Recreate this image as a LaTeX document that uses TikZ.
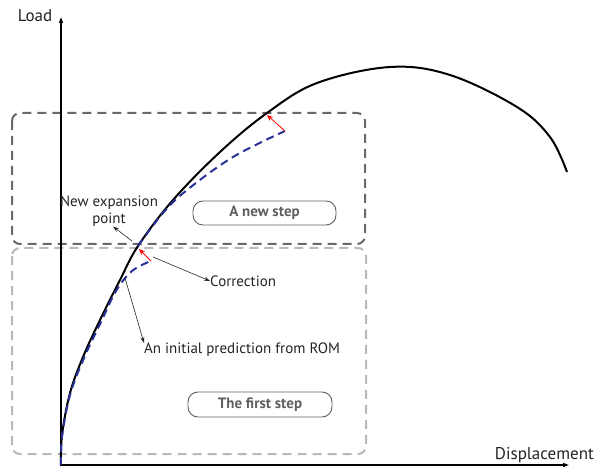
\documentclass[tikz,border=0pt]{standalone}
\usepackage{fontspec}
\setmainfont{PT Sans}
\usetikzlibrary{arrows.meta}
\definecolor{dkgray}{RGB}{105,105,105}
\definecolor{ltgray}{RGB}{185,185,185}
\definecolor{predblue}{RGB}{40,50,150}
\definecolor{txt}{RGB}{35,35,35}
\definecolor{boxtxt}{RGB}{95,95,95}
\tikzset{
 stepframe/.style={line width=2pt, dash pattern=on 9pt off 6pt, rounded corners=8pt},
 axisline/.style={line width=1.4pt, -{Triangle[length=6pt,width=4pt]}},
 loadcurve/.style={line width=2pt, black},
 predcurve/.style={line width=2pt, predblue, dash pattern=on 8pt off 5pt},
 corr/.style={red, line width=0.8pt, -{Stealth[length=6pt,width=5pt]}},
 callout/.style={txt, line width=0.6pt, -{Stealth[length=6pt,width=4pt]}},
 lbl/.style={text=txt, font=\fontsize{15}{17}\selectfont, inner sep=0pt},
 axlbl/.style={text=txt, font=\fontsize{17}{19}\selectfont, inner sep=0pt},
 stepbox/.style={draw=boxtxt, line width=0.9pt, rounded corners=10pt, minimum width=143pt, minimum height=24pt, text=boxtxt, font=\fontsize{15}{17}\selectfont\bfseries},
}
\begin{document}
\begin{tikzpicture}[x=1pt,y=-1pt]
\path[use as bounding box] (0,0) rectangle (595,468);
% frames
\draw[stepframe, ltgray] (12,248) rectangle (366,454);
\draw[stepframe, dkgray] (12,113) rectangle (365,244);
% axes
\coordinate (O) at (61,466);
\coordinate (Ytop) at (61,17);
\coordinate (Xend) at (569,465);
\draw[axisline] (O) -- (Ytop);
\draw[axisline] (61,465) -- (Xend);
% load curve
\draw[loadcurve] plot[smooth, tension=0.6] coordinates {(61,465) (62,435) (70,393) (83,357) (100,320) (120,280) (138,246) (173,200) (220,152) (267,113) (317,83) (390,67) (450,75) (517,107) (550,137) (567,172)};
% predictions
\draw[predcurve] plot[smooth, tension=0.6] coordinates {(61,465) (62,437) (70,395) (84,358) (101,322) (116,291) (132,271) (151,261)};
\draw[predcurve] plot[smooth, tension=0.6] coordinates {(138,246) (163,213) (187,190) (233,157) (285,131)};
% corrections
\coordinate (c1s) at (151,261);
\coordinate (c1e) at (139,249);
\coordinate (c2s) at (285,131);
\coordinate (c2e) at (267,115);
\draw[corr] (c1s) -- (c1e);
\draw[corr] (c2s) -- (c2e);
% labels
\node[axlbl] (load) at (35,16) {Load};
\node[axlbl, anchor=east] (disp) at (594,455) {Displacement};
\node[lbl, align=center] (nep) at (109,211) {New expansion\\point};
\node[lbl, anchor=west] (corrl) at (210,281) {Correction};
\node[lbl, anchor=north west] (pred) at (144,343) {An initial prediction from ROM};
\node[stepbox] (newstep) at (264.5,213) {A new step};
\node[stepbox, minimum width=144pt, minimum height=25pt] (firststep) at (260,404.5) {The first step};
% callouts
\coordinate (nepfrom) at (132,241);
\coordinate (corrfrom) at (153,257);
\coordinate (predfrom) at (125,278);
\draw[callout] (nepfrom) -- ([xshift=4pt]nep.south);
\draw[callout] (corrfrom) -- (corrl.west);
\draw[callout] (predfrom) -- (pred.north west);
\end{tikzpicture}
\end{document}
